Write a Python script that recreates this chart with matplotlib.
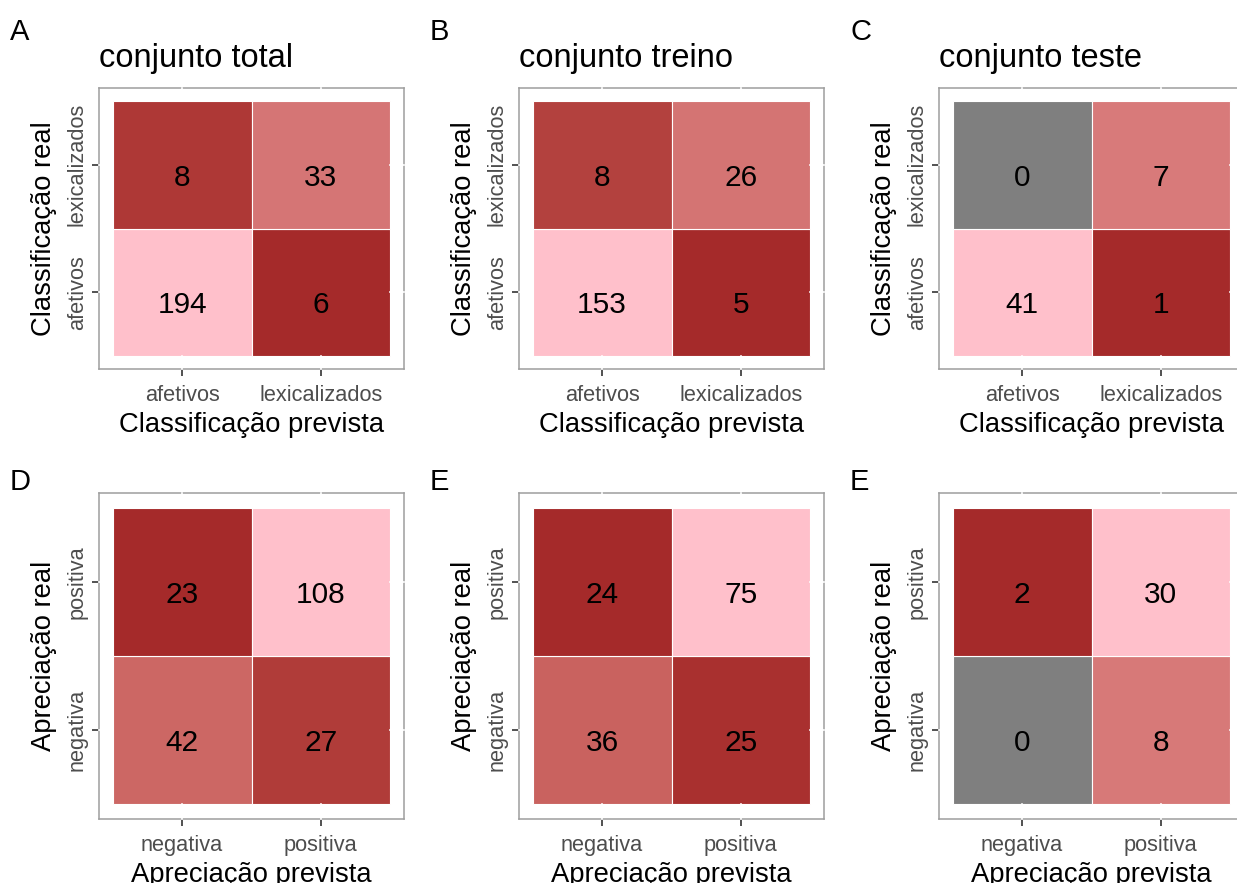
import numpy as np
import matplotlib
matplotlib.use("Agg")
import matplotlib.pyplot as plt

plt.rcParams['font.family'] = ['Liberation Sans', 'DejaVu Sans']

# dados
classes = ["afetivos", "lexicalizados"]
aprec = ["negativa", "positiva"]

# linhas = classe real (baixo -> cima), colunas = classe prevista
cm_total = [[194, 6], [8, 33]]
cm_treino = [[153, 5], [8, 26]]
cm_teste = [[41, 1], [0, 7]]
ap_total = [[42, 27], [23, 108]]
ap_treino = [[36, 25], [24, 75]]
ap_teste = [[0, 8], [2, 30]]

letters = ["A", "B", "C", "D", "E", "E"]
titles = ["conjunto total", "conjunto treino", "conjunto teste", None, None, None]


# gradiente tipo ggplot (interpolação em Lab, escala log)
WHITE = np.array([0.95047, 1.0, 1.08883])
M = np.array([[0.4124, 0.3576, 0.1805], [0.2126, 0.7152, 0.0722], [0.0193, 0.1192, 0.9505]])


def to_lab(hexc):
    c = np.array(matplotlib.colors.to_rgb(hexc))
    lin = np.where(c <= 0.04045, c / 12.92, ((c + 0.055) / 1.055) ** 2.4)
    t = (M @ lin) / WHITE
    f = np.where(t > 0.008856, np.cbrt(t), 7.787 * t + 16 / 116)
    return np.array([116 * f[1] - 16, 500 * (f[0] - f[1]), 200 * (f[1] - f[2])])


def from_lab(lab):
    fy = (lab[0] + 16) / 116
    f = np.array([fy + lab[1] / 500, fy, fy - lab[2] / 200])
    t = np.where(f ** 3 > 0.008856, f ** 3, (f - 16 / 116) / 7.787) * WHITE
    lin = np.linalg.solve(M, t)
    c = np.where(lin <= 0.0031308, 12.92 * lin, 1.055 * np.clip(lin, 0, None) ** (1 / 2.4) - 0.055)
    return np.clip(c, 0, 1)


LOW, HIGH = to_lab("#A52A2A"), to_lab("#FFC0CB")


def cell_colors(m):
    v = np.array(m, dtype=float)
    pos = v[v > 0]
    lo, hi = np.log(pos.min()), np.log(pos.max())
    out = {}
    for (i, j), val in np.ndenumerate(v):
        if val <= 0:
            out[i, j] = "#7F7F7F"
        else:
            s = (np.log(val) - lo) / (hi - lo)
            out[i, j] = from_lab(LOW + s * (HIGH - LOW))
    return out


W, H = 1237, 883
fig = plt.figure(figsize=(W / 100, H / 100), dpi=100)

col_x = [99, 519, 939]
rows = [(88, 369), (493, 819)]
panel_w = 305

mats = [cm_total, cm_treino, cm_teste, ap_total, ap_treino, ap_teste]

for k, m in enumerate(mats):
    r, c = divmod(k, 3)
    x0 = col_x[c]
    y0, y1 = rows[r]
    ax = fig.add_axes([x0 / W, 1 - y1 / H, panel_w / W, (y1 - y0) / H])
    cols = cell_colors(m)
    for (i, j), col in cols.items():
        ax.bar(j + 1, 1, width=1, bottom=i + 0.5, color=col, edgecolor="white", linewidth=0.8)
        ax.annotate(str(m[i][j]), (j + 1, i + 1), xytext=(0, -9.3), textcoords="offset points",
                    ha="center", va="center", fontsize=21.5, color="black")
    # linhas de grade brancas nas margens
    for p in (1, 2):
        ax.plot([p, p], [0.4, 0.5], color="white", lw=1.2, zorder=5, clip_on=False)
        ax.plot([p, p], [2.5, 2.6], color="white", lw=1.2, zorder=5, clip_on=False)
        ax.plot([0.4, 0.5], [p, p], color="white", lw=1.2, zorder=5, clip_on=False)
        ax.plot([2.5, 2.6], [p, p], color="white", lw=1.2, zorder=5, clip_on=False)
    ax.set_xlim(0.4, 2.6)
    ax.set_ylim(0.4, 2.6)
    labs = classes if r == 0 else aprec
    ax.set_xticks([1, 2])
    ax.set_yticks([1, 2])
    ax.set_xticklabels(labs, fontsize=15.7, color="#4D4D4D")
    ax.set_yticklabels(labs, fontsize=15.7, color="#4D4D4D", rotation=90, va="center")
    ax.tick_params(length=5, width=1.2, color="#333333")
    ax.tick_params(axis="x", pad=6.5)
    ax.tick_params(axis="y", pad=3)
    for s in ax.spines.values():
        s.set_color("#9E9E9E")
        s.set_linewidth(1.1)
    if r == 0:
        ax.set_xlabel("Classificação prevista", fontsize=19.7, labelpad=4)
        ax.set_ylabel("Classificação real", fontsize=19.7, labelpad=7)
    else:
        ax.set_xlabel("Apreciação prevista", fontsize=19.7, labelpad=4)
        ax.set_ylabel("Apreciação real", fontsize=19.7, labelpad=7)
    if titles[k]:
        fig.text(x0 / W, 1 - 67 / H, titles[k], fontsize=23.5, ha="left", va="baseline")
    ly = 40 if r == 0 else 490
    fig.text((c * 420 + 10) / W, 1 - ly / H, letters[k], fontsize=21, ha="left", va="baseline")

fig.savefig("out.png", dpi=100)
